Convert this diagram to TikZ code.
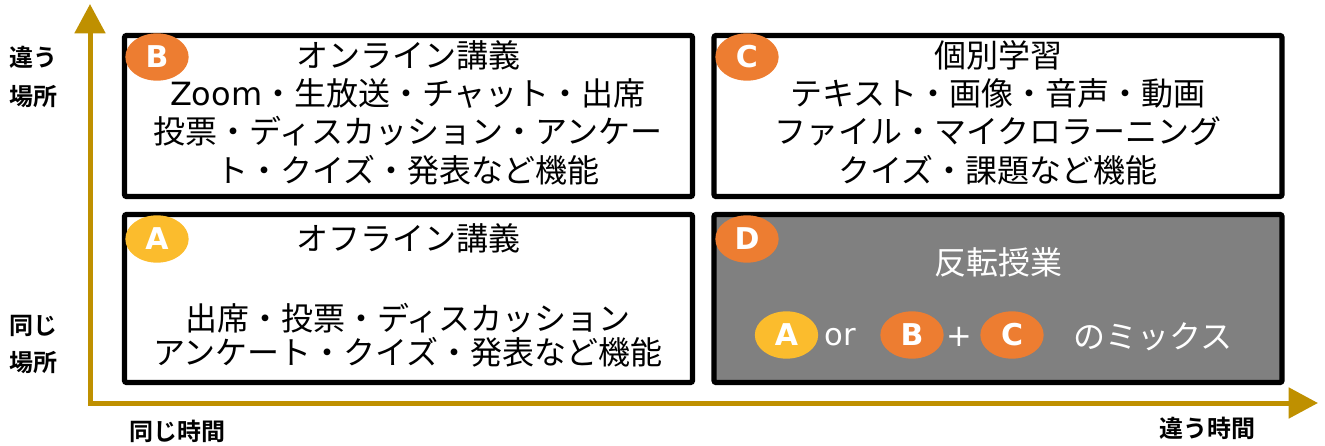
\documentclass[tikz,border=0pt]{standalone}
\usepackage{fontspec}
\setmainfont{Noto Sans CJK JP}[BoldFont={Noto Sans CJK JP Bold}]
\newfontfamily\latinfont{DejaVu Sans}
\usetikzlibrary{arrows.meta,shapes.geometric}
\definecolor{axisgold}{RGB}{191,144,0}
\definecolor{tagorange}{RGB}{237,125,49}
\definecolor{taggold}{RGB}{251,188,45}
\definecolor{flipgray}{RGB}{128,128,128}

\begin{document}
\begin{tikzpicture}
	[%%%%%%%%%%%%%%%%%%%%%%%%%%%%%%
	x=0.75pt,y=-0.75pt,
	box/.style={rectangle,draw=black,line width=3.9pt,rounded corners=1.5pt,minimum width=426pt,inner sep=0pt},
	toprow/.style={box,minimum height=120.75pt},
	botrow/.style={box,minimum height=126pt},
	tag/.style={ellipse,minimum width=47.5pt,minimum height=35.5pt,inner sep=0pt,text=white,font=\latinfont\bfseries\fontsize{22.5}{22.5}\selectfont},
	body/.style={align=center,inner sep=0pt,font=\fontsize{24}{28.7}\selectfont},
	axislabel/.style={inner sep=0pt,font=\bfseries\fontsize{18}{18}\selectfont},
	axis/.style={draw=axisgold,line width=3.75pt,{Triangle[length=22pt,width=22.5pt]}-{Triangle[length=22pt,width=22.5pt]}},
	]%%%%%%%%%%%%%%%%%%%%%%%%%%%%%%
	
	\useasboundingbox (0,0) rectangle (1325,446);
	
	% axes
	\coordinate (ytip) at (90,4);
	\coordinate (origin) at (90,403);
	\coordinate (xtip) at (1318,403);
	\draw[axis] (ytip) -- (origin) -- (xtip);
	
	\node[axislabel] (lbl-far) at (33,57) {違う};
	\node[axislabel] (lbl-far2) at (33,97) {場所};
	\node[axislabel] (lbl-same) at (33,326) {同じ};
	\node[axislabel] (lbl-same2) at (33,363) {場所};
	\node[axislabel] (lbl-now) at (177,431) {同じ時間};
	\node[axislabel] (lbl-later) at (1207,428) {違う時間};
	
	% quadrants
	\node[toprow] (online) at (408.5,116) {};
	\node[toprow] (self) at (998,116) {};
	\node[botrow] (offline) at (408.5,298.5) {};
	\node[botrow,fill=flipgray] (flipped) at (998,298.5) {};
	
	\node[body] (online-txt) at (408,112.5) {オンライン講義\\{\latinfont Zoom}・生放送・チャット・出席\\投票・ディスカッション・アンケー\\ト・クイズ・発表など機能};
	\node[body] (self-txt) at (998,112.5) {個別学習\\テキスト・画像・音声・動画\\ファイル・マイクロラーニング\\クイズ・課題など機能};
	\node[body] (offline-ttl) at (408,238) {オフライン講義};
	\node[body,font=\fontsize{24}{25.5}\selectfont] (offline-txt) at (408,335) {出席・投票・ディスカッション\\アンケート・クイズ・発表など機能};
	\node[body,text=white] (flipped-ttl) at (998,262) {反転授業};
	
	\node[tag,fill=tagorange] (tagB) at (157,57) {B};
	\node[tag,fill=tagorange] (tagC) at (747,57) {C};
	\node[tag,fill=taggold] (tagA) at (157,239) {A};
	\node[tag,fill=tagorange] (tagD) at (747,239) {D};
	
	% mix row
	\node[tag,fill=taggold] (mixA) at (786.5,335) {A};
	\node[body,text=white,font=\latinfont\fontsize{23}{23}\selectfont] (mix-or) at (840,337) {or};
	\node[tag,fill=tagorange] (mixB) at (912,335) {B};
	\node[body,text=white,font=\latinfont\fontsize{23}{23}\selectfont] (mix-plus) at (959,337) {+};
	\node[tag,fill=tagorange] (mixC) at (1012,335) {C};
	\node[body,text=white] (mix-txt) at (1153,337) {のミックス};
	
\end{tikzpicture}
\end{document}
